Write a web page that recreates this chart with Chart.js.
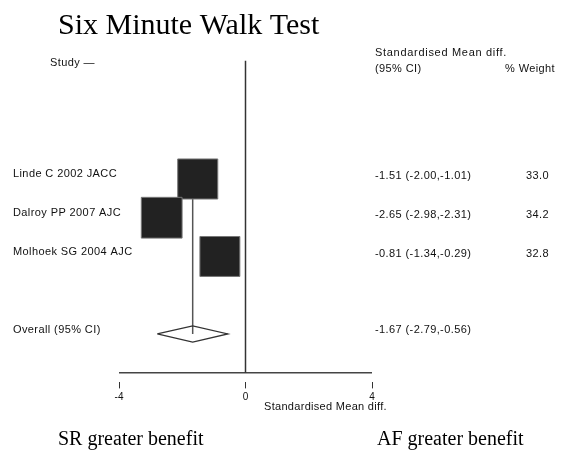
<!DOCTYPE html>
<html>
<head>
<meta charset="utf-8">
<script src="https://cdn.jsdelivr.net/npm/chart.js@4.4.1/dist/chart.umd.min.js"></script>
<style>
  html, body { margin: 0; padding: 0; background: #fff; }
  canvas { display: block; }
</style>
</head>
<body>
<canvas id="forest" width="563" height="450"></canvas>
<script>
// Study-level results: standardised mean difference with 95% CI and weight
const studies = ['Linde C 2002 JACC', 'Dalroy PP 2007 AJC', 'Molhoek SG 2004 AJC'];
const smd = [-1.51, -2.65, -0.81];
const ciLow = [-2.00, -2.98, -1.34];
const ciHigh = [-1.01, -2.31, -0.29];
const weights = [33.0, 34.2, 32.8];

// Pooled estimate
const overallLabel = 'Overall (95% CI)';
const overallEst = [-1.67];
const overallLow = [-2.79];
const overallHigh = [-0.56];

// Axis ticks and labels
const xTicks = [-4, 0, 4];
const titleText = 'Six Minute Walk Test';
const axisTitle = 'Standardised Mean diff.';
const leftNote = 'SR greater benefit';
const rightNote = 'AF greater benefit';

// Row layout (y units, reversed scale)
const studyRow = i => i + 1;
const overallRow = studies.length + 2;
const axisRow = overallRow + 1;
const headerRow = -2;

const squareScale = 4.93;          // radius per sqrt(% weight)
const diamondHalf = 0.21;          // diamond half-height in rows

const squares = studies.map((s, i) => ({ x: smd[i], y: studyRow(i) }));
const ciSegments = [];
studies.forEach((s, i) => {
  ciSegments.push({ x: ciLow[i], y: studyRow(i) }, { x: ciHigh[i], y: studyRow(i) }, { x: null, y: null });
});
const oe = overallEst[0];
const diamond = [
  { x: overallLow[0], y: overallRow },
  { x: oe, y: overallRow - diamondHalf },
  { x: overallHigh[0], y: overallRow },
  { x: oe, y: overallRow + diamondHalf },
  { x: overallLow[0], y: overallRow }
];

const lineDs = (data, color, width) => ({
  data, showLine: true, borderColor: color, borderWidth: width,
  pointRadius: 0, pointHoverRadius: 0, fill: false, tension: 0, spanGaps: false
});

const textPlugin = {
  id: 'forestText',
  afterDraw(chart) {
    const ctx = chart.ctx;
    const ys = chart.scales.y;
    ctx.save();

    // Title
    ctx.fillStyle = '#000';
    ctx.font = '30px "Liberation Serif", "Times New Roman", serif';
    ctx.textAlign = 'left';
    ctx.textBaseline = 'alphabetic';
    ctx.fillText(titleText, 58, 34);

    // Benefit notes
    ctx.font = '20px "Liberation Serif", "Times New Roman", serif';
    ctx.fillText(leftNote, 58, 445);
    ctx.fillText(rightNote, 377, 445);

    // Small labels
    ctx.fillStyle = '#111';
    ctx.font = '11px "Liberation Sans", Arial, sans-serif';
    ctx.letterSpacing = '0.4px';
    ctx.textBaseline = 'middle';

    const hy = ys.getPixelForValue(headerRow);
    ctx.fillText('Study \u2014', 50, hy);
    ctx.letterSpacing = '0.7px';
    ctx.fillText('Standardised Mean diff.', 375, 53);
    ctx.letterSpacing = '0.4px';
    ctx.fillText('(95% CI)', 375, 69);
    ctx.fillText('% Weight', 505, 69);

    studies.forEach((s, i) => {
      const py = ys.getPixelForValue(studyRow(i));
      ctx.textAlign = 'left';
      ctx.fillText(s, 13, py - 5);
      ctx.fillText(smd[i].toFixed(2) + ' (' + ciLow[i].toFixed(2) + ',' + ciHigh[i].toFixed(2) + ')', 375, py - 3);
      ctx.textAlign = 'right';
      ctx.fillText(weights[i].toFixed(1), 549, py - 3);
    });

    const oy = ys.getPixelForValue(overallRow);
    ctx.textAlign = 'left';
    ctx.fillText(overallLabel, 13, oy - 4);
    ctx.fillText(oe.toFixed(2) + ' (' + overallLow[0].toFixed(2) + ',' + overallHigh[0].toFixed(2) + ')', 375, oy - 4);

    // Axis title
    ctx.font = '11px "Liberation Sans", Arial, sans-serif';
    ctx.letterSpacing = '0.3px';
    ctx.fillText(axisTitle, 264, 407);
    ctx.restore();
  }
};

new Chart(document.getElementById('forest'), {
  type: 'scatter',
  data: {
    datasets: [
      {
        data: squares,
        pointStyle: 'rect',
        pointRadius: weights.map(w => squareScale * Math.sqrt(w)),
        pointHoverRadius: weights.map(w => squareScale * Math.sqrt(w)),
        backgroundColor: '#222',
        borderColor: '#777',
        borderWidth: 1
      },
      lineDs(ciSegments, '#333', 1.5),
      lineDs(diamond, '#333', 1.3),
      lineDs([{ x: oe, y: studyRow(0) }, { x: oe, y: overallRow }], '#555', 1.5),
      lineDs([{ x: 0, y: -2.05 }, { x: 0, y: axisRow }], '#333', 1.5),
      lineDs([{ x: xTicks[0], y: axisRow }, { x: xTicks[xTicks.length - 1], y: axisRow }], '#444', 1.5)
    ]
  },
  options: {
    responsive: false,
    animation: false,
    events: [],
    layout: {
      autoPadding: false,
      padding: { left: 119, right: 191, top: 24, bottom: 47.6 }
    },
    plugins: { legend: { display: false }, tooltip: { enabled: false } },
    scales: {
      x: {
        type: 'linear',
        position: 'bottom',
        min: xTicks[0],
        max: xTicks[xTicks.length - 1],
        afterBuildTicks: s => { s.ticks = xTicks.map(v => ({ value: v })); },
        afterFit: s => { s.height = 20; },
        border: { display: false },
        grid: { drawOnChartArea: false, drawTicks: true, tickLength: 6, color: '#333', lineWidth: 1 },
        ticks: {
          padding: 3,
          color: '#111',
          maxRotation: 0,
          font: { family: '"Liberation Sans", Arial, sans-serif', size: 10 },
          callback: v => String(v)
        }
      },
      y: {
        type: 'linear',
        display: false,
        reverse: true,
        min: -3,
        max: 6.25
      }
    }
  },
  plugins: [textPlugin]
});
</script>
</body>
</html>
